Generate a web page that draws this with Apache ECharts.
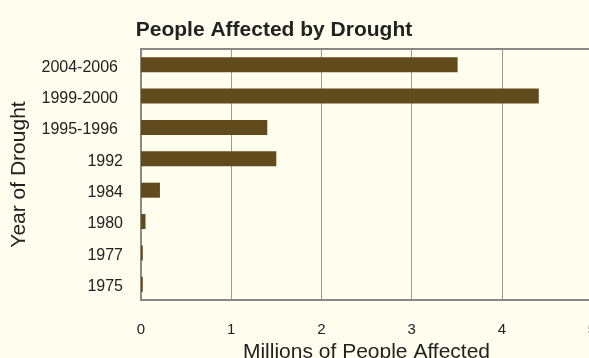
<!DOCTYPE html>
<html><head><meta charset="utf-8">
<script src="https://cdn.jsdelivr.net/npm/echarts@6/dist/echarts.min.js"></script>
<style>html,body{margin:0;padding:0;background:#FFFDEE;}#c{width:589px;height:358px;}</style>
</head><body><div id="c"></div>
<script>
const categories = ["1975","1977","1980","1984","1992","1995-1996","1999-2000","2004-2006"];
const values = [0.02,0.02,0.05,0.21,1.50,1.40,4.41,3.51];
const xTicks = [0,1,2,3,4,5];
const FONT = 'Liberation Sans, Arial';
const chart = echarts.init(document.getElementById('c'));
chart.setOption({
  backgroundColor: '#FFFDEE',
  animation: false,
  title: {
    text: 'People Affected by Drought',
    left: 269, top: 15, textAlign: 'center',
    textStyle: {fontFamily: FONT, fontSize: 21, fontWeight: 'bold', color: '#222'}
  },
  grid: {left: 141, top: 49, width: 451, height: 251, outerBoundsMode: 'none', containLabel: false, show: true, borderColor: '#888', borderWidth: 2, backgroundColor: 'transparent'},
  xAxis: {
    type: 'value', min: xTicks[0], max: xTicks[xTicks.length-1], interval: 1,
    name: 'Millions of People Affected', nameLocation: 'middle', nameGap: 37,
    nameTextStyle: {fontFamily: FONT, fontSize: 21, color: '#222'},
    axisLine: {show: true, lineStyle: {color: '#888', width: 2}},
    axisTick: {show: false},
    axisLabel: {margin: 22, fontFamily: FONT, fontSize: 15, color: '#222'},
    splitLine: {show: true, lineStyle: {color: '#999', width: 1}}
  },
  yAxis: {
    type: 'category', data: categories,
    name: 'Year of Drought', nameLocation: 'middle', nameGap: 111, nameRotate: 90,
    nameTextStyle: {fontFamily: FONT, fontSize: 21, color: '#222'},
    axisLine: {show: true, lineStyle: {color: '#888', width: 2}},
    axisTick: {show: false},
    axisLabel: {
      margin: 18, fontFamily: FONT, fontSize: 16, color: '#222',
      formatter: function (v) { return v.indexOf('-') >= 0 ? '{h|' + v + '}' : '{n|' + v + '}'; },
      rich: {
        h: {fontFamily: FONT, fontSize: 16, color: '#222', padding: [5, 5, 0, 0]},
        n: {fontFamily: FONT, fontSize: 16, color: '#222', padding: [5, 0, 0, 0]}
      }
    },
    splitLine: {show: false}
  },
  series: [{
    type: 'bar', data: values, barWidth: 15,
    itemStyle: {color: '#614A1C'}
  }]
});
</script></body></html>
